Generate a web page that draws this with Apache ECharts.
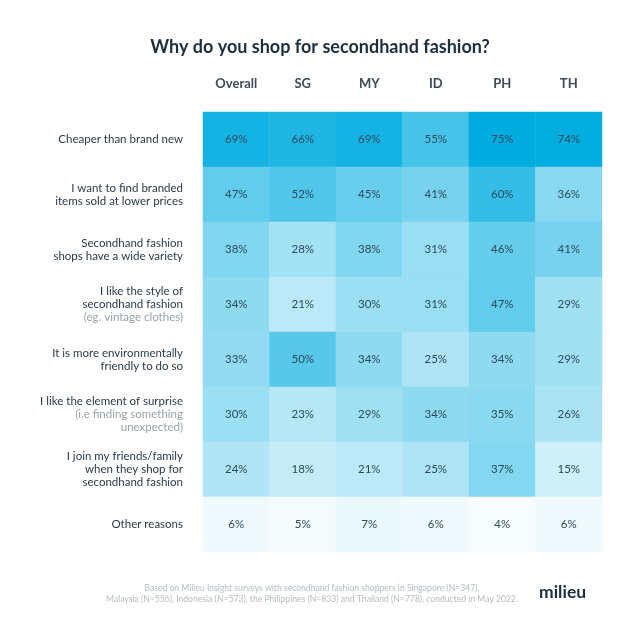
<!DOCTYPE html>
<html>
<head>
<meta charset="utf-8">
<script src="https://cdn.jsdelivr.net/npm/echarts@6/dist/echarts.min.js"></script>
<style>
html,body{margin:0;padding:0;background:#fff;}
#chart{width:640px;height:620px;}
</style>
</head>
<body>
<div id="chart"></div>
<script>
const columns = ['Overall', 'SG', 'MY', 'ID', 'PH', 'TH'];
const reasons = [
  'Cheaper than brand new',
  'I want to find branded\nitems sold at lower prices',
  'Secondhand fashion\nshops have a wide variety',
  'I like the style of\nsecondhand fashion|(eg. vintage clothes)',
  'It is more environmentally\nfriendly to do so',
  'I like the element of surprise|(i.e finding something\nunexpected)',
  'I join my friends/family\nwhen they shop for\nsecondhand fashion',
  'Other reasons'
];
// values per reason, in column order Overall, SG, MY, ID, PH, TH
const valCheaper     = [69, 66, 69, 55, 75, 74];
const valBranded     = [47, 52, 45, 41, 60, 36];
const valVariety     = [38, 28, 38, 31, 46, 41];
const valStyle       = [34, 21, 30, 31, 47, 29];
const valEnvironment = [33, 50, 34, 25, 34, 29];
const valSurprise    = [30, 23, 29, 34, 35, 26];
const valFriends     = [24, 18, 21, 25, 37, 15];
const valOther       = [6, 5, 7, 6, 4, 6];
const rows = [valCheaper, valBranded, valVariety, valStyle, valEnvironment, valSurprise, valFriends, valOther];

const data = [];
rows.forEach((r, yi) => r.forEach((v, xi) => data.push([xi, yi, v])));

const chart = echarts.init(document.getElementById('chart'));
const FONT = 'Lato, "Open Sans", sans-serif';
chart.setOption({
  backgroundColor: '#ffffff',
  textStyle: { fontFamily: FONT },
  title: [{
    text: 'Why do you shop for secondhand fashion?',
    left: 'center', top: 33,
    textStyle: { fontFamily: FONT, fontSize: 18, fontWeight: 'bold', color: '#1c2f3e' }
  }],
  graphic: [
    { type: 'text', x: 312, y: 584, style: {
        text: 'Based on Milieu Insight surveys with secondhand fashion shoppers in Singapore (N=347),',
        font: '8.6px ' + FONT, fill: '#b3bcc1', align: 'center' } },
    { type: 'text', x: 312, y: 595, style: {
        text: 'Malaysia (N=556), Indonesia (N=573), the Philippines (N=833) and Thailand (N=778), conducted in May 2022.',
        font: '8.6px ' + FONT, fill: '#b3bcc1', align: 'center' } },
    { type: 'text', x: 539, y: 583, style: {
        text: 'milieu', font: 'bold 17.5px ' + FONT, fill: '#1c2f3e' } }
  ],
  grid: { left: 203, right: 38, top: 112, bottom: 68 },
  xAxis: {
    type: 'category', data: columns, position: 'top',
    axisLine: { show: false }, axisTick: { show: false }, splitLine: { show: false },
    axisLabel: { margin: 22, fontFamily: FONT, fontSize: 13, fontWeight: 'bold', color: '#3b4c58' }
  },
  yAxis: {
    type: 'category', data: reasons, inverse: true,
    axisLine: { show: false }, axisTick: { show: false }, splitLine: { show: false },
    axisLabel: {
      margin: 20, align: 'right', fontFamily: FONT, fontSize: 11.5, color: '#2a3a47', lineHeight: 13,
      formatter: function (v) {
        const parts = v.split('|');
        if (parts.length === 1) return '{a|' + parts[0].split('\n').join('}\n{a|') + '}';
        const main = parts[0].split('\n').map(s => '{a|' + s + '}').join('\n');
        const sub = parts[1].split('\n').map(s => '{b|' + s + '}').join('\n');
        return main + '\n' + sub;
      },
      rich: {
        a: { fontFamily: FONT, fontSize: 11.5, color: '#2a3a47', lineHeight: 13, align: 'right' },
        b: { fontFamily: FONT, fontSize: 11.5, color: '#9aa3a9', lineHeight: 13, align: 'right' }
      }
    }
  },
  visualMap: {
    show: false, type: 'continuous', min: 3, max: 75, dimension: 2,
    inRange: { color: ['#fafdfe', '#00ace0'] }
  },
  series: [{
    type: 'heatmap', data: data,
    label: {
      show: true, formatter: p => p.value[2] + '%',
      fontFamily: FONT, fontSize: 11.5, color: '#2a4a5e'
    },
    itemStyle: { borderWidth: 0 },
    emphasis: { disabled: true }
  }]
});
</script>
</body>
</html>
